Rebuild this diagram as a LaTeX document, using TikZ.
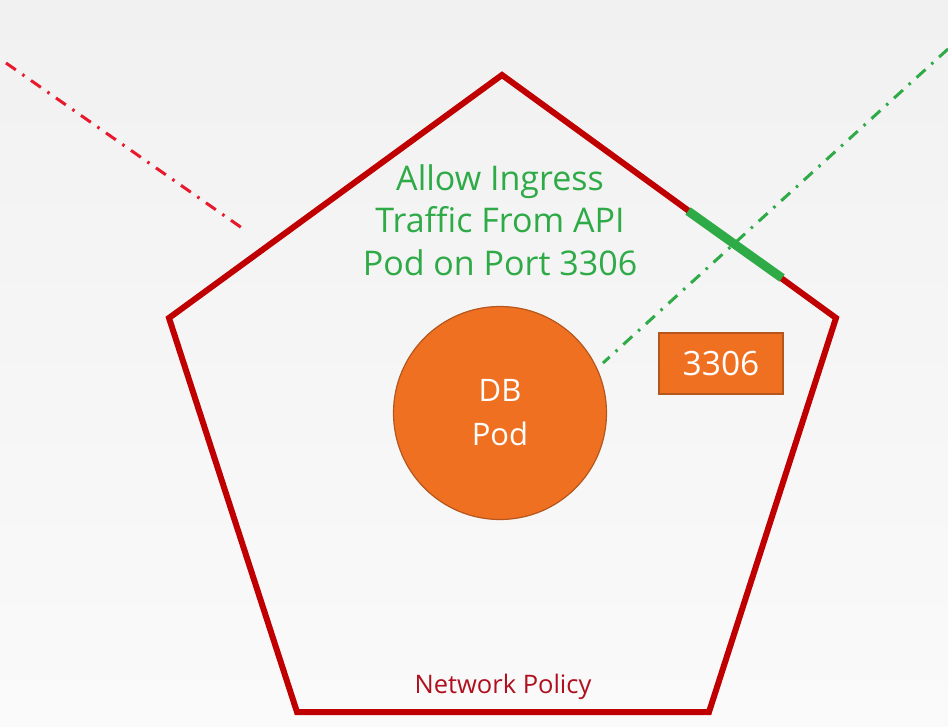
\documentclass[tikz,border=0pt]{standalone}
\usepackage{fontspec}
\setmainfont{Open Sans}
\definecolor{polred}{HTML}{C00000}
\definecolor{txtred}{HTML}{B0101E}
\definecolor{dashred}{HTML}{E8192C}
\definecolor{okgreen}{HTML}{2EAA46}
\definecolor{podorange}{HTML}{F07022}
\definecolor{podedge}{HTML}{B5561C}
\definecolor{bgtop}{HTML}{F1F1F1}
\definecolor{bgbot}{HTML}{FAFAFA}
\tikzset{
  dashdot/.style={line width=3pt, dash pattern=on 12pt off 8pt on 2.5pt off 8pt},
  pod/.style={circle, fill=podorange, draw=podedge, line width=1.2pt, text=white, align=center, font=\fontsize{31}{44}\selectfont},
  portbox/.style={rectangle, fill=podorange, draw=podedge, line width=1.2pt, text=white, font=\fontsize{33.5}{36}\selectfont, minimum width=124pt, minimum height=61pt, inner sep=0pt},
}
\begin{document}
\begin{tikzpicture}[x=1pt,y=-1pt]
\useasboundingbox (0,0) rectangle (948,727);
\shade[top color=bgtop, bottom color=bgbot] (0,0) rectangle (948,727);
% pentagon
\coordinate (T) at (502,75);
\coordinate (R) at (836,318);
\coordinate (BR) at (709,712);
\coordinate (BL) at (297,712);
\coordinate (L) at (169,318);
\draw[polred, line width=6pt, line join=miter] (T) -- (R) -- (BR) -- (BL) -- (L) -- cycle;
% green allowed segment
\coordinate (G1) at (688,211);
\coordinate (G2) at (782,278);
\draw[okgreen, line width=9pt] (G1) -- (G2);
% red blocked traffic
\coordinate (r1) at (6,63);
\coordinate (r2) at (242,228);
\draw[dashred, dashdot] (r1) -- (r2);
% green traffic
\coordinate (g1) at (948,49);
\coordinate (g2) at (603,363);
\draw[okgreen, dashdot] (g1) -- (g2);
% pod
\node[pod, minimum size=213pt, inner sep=0pt] (db) at (500,413) {DB\\Pod};
\node[portbox] (port) at (721,363.5) {3306};
% texts
\node[text=okgreen, align=center, font=\fontsize{34}{42.5}\selectfont] (rule) at (500,220) {Allow Ingress\\Traffic From API\\Pod on Port 3306};
\node[text=txtred, font=\fontsize{25.5}{28}\selectfont] (np) at (503,687) {Network Policy};
\end{tikzpicture}
\end{document}
